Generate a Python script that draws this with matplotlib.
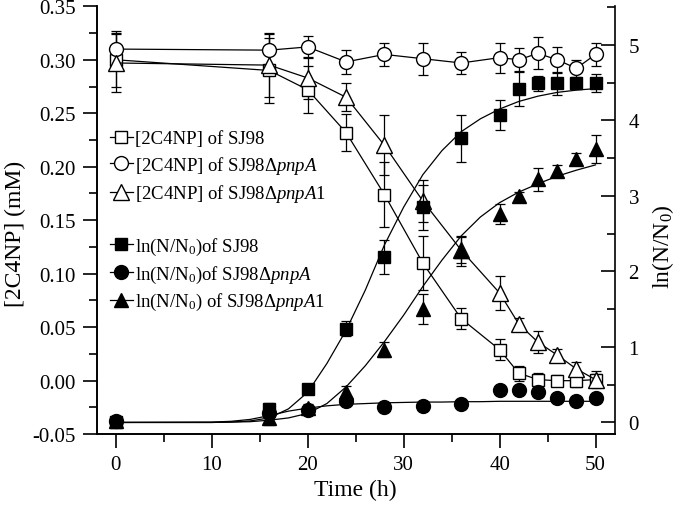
import matplotlib
matplotlib.use('Agg')
import matplotlib.pyplot as plt
from matplotlib.lines import Line2D
from matplotlib.ticker import MultipleLocator

plt.rcParams['font.family'] = ['Liberation Serif', 'DejaVu Serif']
plt.rcParams['mathtext.fontset'] = 'custom'
plt.rcParams['mathtext.rm'] = 'Liberation Serif'
plt.rcParams['mathtext.it'] = 'Liberation Serif:italic'
plt.rcParams['mathtext.bf'] = 'Liberation Serif:bold'

# sampling times (h)
time_h = [0, 16, 20, 24, 28, 32, 36, 40, 42, 44, 46, 48, 50]

# [2C4NP] (mM), left axis
c4np_sj98 = [0.300, 0.290, 0.272, 0.232, 0.174, 0.110, 0.058, 0.029, 0.007, 0.001, 0.000, 0.000, 0.001]
c4np_sj98_err = [0.025, 0.030, 0.022, 0.017, 0.030, 0.025, 0.010, 0.010, 0.007, 0.006, 0.005, 0.006, 0.005]
c4np_pnpa = [0.310, 0.309, 0.312, 0.298, 0.305, 0.301, 0.297, 0.302, 0.300, 0.306, 0.300, 0.292, 0.305]
c4np_pnpa_err = [0.017, 0.015, 0.010, 0.011, 0.011, 0.015, 0.010, 0.014, 0.011, 0.015, 0.012, 0.008, 0.011]
c4np_pnpa1 = [0.297, 0.295, 0.283, 0.265, 0.220, 0.168, 0.122, 0.082, 0.053, 0.036, 0.024, 0.011, 0.001]
c4np_pnpa1_err = [0.027, 0.030, 0.020, 0.013, 0.028, 0.020, 0.012, 0.016, 0.006, 0.010, 0.006, 0.006, 0.008]

# ln(N/N0), right axis
ln_sj98 = [0.01, 0.18, 0.44, 1.24, 2.19, 2.85, 3.76, 4.07, 4.42, 4.49, 4.49, 4.49, 4.49]
ln_sj98_err = [0.02, 0.08, 0.05, 0.10, 0.22, 0.30, 0.31, 0.20, 0.23, 0.10, 0.15, 0.05, 0.12]
ln_pnpa = [0.02, 0.13, 0.16, 0.29, 0.20, 0.22, 0.24, 0.43, 0.43, 0.40, 0.33, 0.29, 0.33]
ln_pnpa_err = [0.02, 0.03, 0.03, 0.03, 0.02, 0.02, 0.02, 0.03, 0.03, 0.03, 0.03, 0.03, 0.03]
ln_pnpa1 = [0.02, 0.06, 0.19, 0.40, 0.96, 1.50, 2.27, 2.76, 3.00, 3.22, 3.33, 3.49, 3.62]
ln_pnpa1_err = [0.02, 0.10, 0.05, 0.08, 0.10, 0.20, 0.20, 0.13, 0.05, 0.15, 0.08, 0.08, 0.18]

# growth fit curves
fit_t = [0, 10, 12, 14, 16, 18, 20, 22, 24, 26, 28, 30, 32, 34, 36, 38, 40, 42, 44, 46, 48, 50]
fit_sj98 = [0, 0, 0.005, 0.02, 0.06, 0.18, 0.40, 0.78, 1.22, 1.75, 2.35, 2.85, 3.28, 3.60, 3.85,
            4.02, 4.15, 4.25, 4.32, 4.37, 4.40, 4.42]
fit_pnpa = [0, 0.005, 0.015, 0.04, 0.09, 0.15, 0.19, 0.22, 0.24, 0.25, 0.26, 0.265, 0.27, 0.27,
            0.275, 0.275, 0.28, 0.28, 0.28, 0.28, 0.28, 0.28]
fit_pnpa1 = [0, 0, 0.005, 0.01, 0.03, 0.06, 0.12, 0.25, 0.47, 0.75, 1.07, 1.42, 1.80, 2.15, 2.47,
             2.72, 2.91, 3.05, 3.16, 3.26, 3.34, 3.41]

labels_c4np = ['[2C4NP] of SJ98',
               r'[2C4NP] of SJ98Δ$\mathit{pnpA}$',
               r'[2C4NP] of SJ98Δ$\mathit{pnpA1}$']
labels_ln = [r'ln(N/N$_0$)of SJ98',
             r'ln(N/N$_0$)of SJ98Δ$\mathit{pnpA}$',
             r'ln(N/N$_0$) of SJ98Δ$\mathit{pnpA1}$']

lw = 0.9
fig = plt.figure(figsize=(6.8, 5.06), dpi=100)
ax = fig.add_axes([0.142, 0.140, 0.762, 0.8456])
ax2 = ax.twinx()

eb = dict(color='k', capsize=3.5, elinewidth=lw, capthick=lw, lw=lw)

ax2.plot(fit_t, fit_sj98, 'k-', lw=lw)
ax2.plot(fit_t, fit_pnpa, 'k-', lw=lw)
ax2.plot(fit_t, fit_pnpa1, 'k-', lw=lw)
ax2.errorbar(time_h, ln_sj98, yerr=ln_sj98_err, fmt='s', ms=9, **eb)
ax2.errorbar(time_h, ln_pnpa, yerr=ln_pnpa_err, fmt='o', ms=10, **eb)
ax2.errorbar(time_h, ln_pnpa1, yerr=ln_pnpa1_err, fmt='^', ms=10, **eb)

ax.errorbar(time_h, c4np_sj98, yerr=c4np_sj98_err, fmt='s-', ms=8, mfc='white', **eb)
ax.errorbar(time_h, c4np_pnpa, yerr=c4np_pnpa_err, fmt='o-', ms=10, mfc='white', **eb)
ax.errorbar(time_h, c4np_pnpa1, yerr=c4np_pnpa1_err, fmt='^-', ms=11, mfc='white', **eb)

ax.set_xlim(-2, 52)
ax.set_ylim(-0.05, 0.35)
ax2.set_ylim(-0.155, 5.51)

ax.xaxis.set_major_locator(MultipleLocator(10))
ax.xaxis.set_minor_locator(MultipleLocator(5))
ax.yaxis.set_major_locator(MultipleLocator(0.05))
ax.yaxis.set_minor_locator(MultipleLocator(0.025))
ax2.yaxis.set_major_locator(MultipleLocator(1))
ax2.yaxis.set_minor_locator(MultipleLocator(0.5))
ax.yaxis.set_major_formatter(plt.FormatStrFormatter('%.2f'))

for a in (ax, ax2):
    a.spines['top'].set_visible(False)
    for s in a.spines.values():
        s.set_linewidth(1.2)
ax.spines['right'].set_visible(False)

ax.tick_params(axis='both', which='major', direction='out', length=10, width=1.2, labelsize=15, pad=5)
ax.tick_params(axis='both', which='minor', direction='out', length=6, width=1.2)
ax.tick_params(axis='y', right=False)
ax2.tick_params(axis='y', which='major', direction='in', length=10, width=1.2, labelsize=15, pad=10)
ax2.tick_params(axis='y', which='minor', direction='in', length=6, width=1.2)

ax.set_xlabel('Time (h)', fontsize=17)
ax.set_ylabel('[2C4NP] (mM)', fontsize=17)
ax2.set_ylabel(r'ln(N/N$_0$)', fontsize=17)
ax.xaxis.set_label_coords(0.5, -0.105)
ax.yaxis.set_label_coords(-0.136, 0.47)
ax2.yaxis.set_label_coords(1.068, 0.44)

h1 = [Line2D([], [], color='k', lw=lw, marker=m, ms=s, mfc='white')
      for m, s in (('s', 8), ('o', 10), ('^', 11))]
h2 = [Line2D([], [], color='k', lw=lw, marker=m, ms=s)
      for m, s in (('s', 9), ('o', 10), ('^', 10))]
leg_kw = dict(loc='center left', frameon=False, fontsize=13.5, handlelength=1.2,
              handletextpad=0.15, labelspacing=0.35, borderpad=0, borderaxespad=0)
leg1 = ax2.legend(h1, labels_c4np, bbox_to_anchor=(0.026, 0.624), **leg_kw)
ax2.add_artist(leg1)
ax2.legend(h2, labels_ln, bbox_to_anchor=(0.026, 0.374), **leg_kw)

fig.savefig('out.png', dpi=100)
